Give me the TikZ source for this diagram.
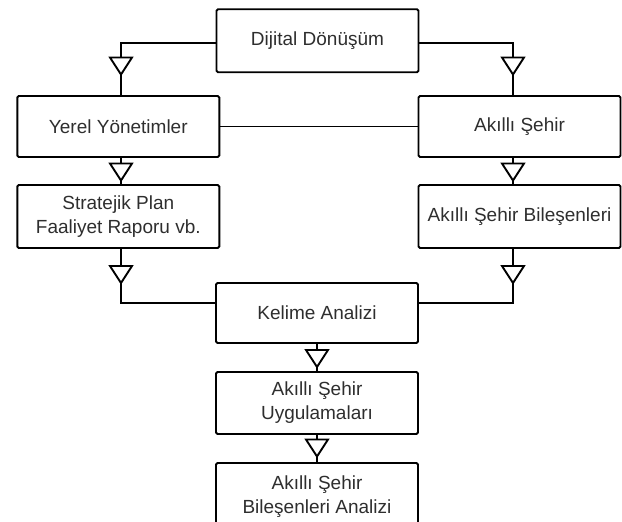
\documentclass[tikz,border=0pt]{standalone}
\usepackage{fontspec}
\setmainfont{Liberation Sans}
\begin{document}
\begin{tikzpicture}[x=1pt,y=-1pt,
  box/.style={draw=black, line width=1.9pt, rounded corners=1.5pt, align=center, inner sep=0pt,
    text=black!82, font=\fontsize{19}{24}\selectfont, minimum width=202pt},
  conn/.style={line width=1.9pt},
  tri/.pic={\draw[line width=1.9pt,fill=white,line join=miter] (-11,-8.5) -- (11,-8.5) -- (0,8.5) -- cycle;}]
\useasboundingbox (0,0) rectangle (622,522);
\coordinate (lc) at (121,0);
\coordinate (rc) at (513,0);
% boxes
\node[box, minimum height=63pt] (dd) at (317.5,40.7) {Dijital Dönüşüm};
\node[box, minimum height=61pt] (yy) at (118.3,126.5) {Yerel Yönetimler};
\node[box, minimum height=61pt] (as) at (519.5,126.5) {Akıllı Şehir};
\node[box, minimum height=63pt] (sp) at (118.3,216.5) {Stratejik Plan\\Faaliyet Raporu vb.};
\node[box, minimum height=63pt] (asb) at (519.5,216.5) {Akıllı Şehir Bileşenleri};
\node[box, minimum height=60pt] (ka) at (317,313) {Kelime Analizi};
\node[box, minimum height=62pt] (ua) at (317,403) {Akıllı Şehir\\Uygulamaları};
\node[box, minimum height=68pt] (sb) at (317,497) {Akıllı Şehir\\Bileşenleri Analizi};
% connectors
\draw[conn] ([yshift=-2.3pt]dd.west) -| (lc |- yy.north);
\draw[conn] ([yshift=-2.3pt]dd.east) -| (rc |- as.north);
\draw[conn] (yy.east) -- (as.west);
\draw[conn] (lc |- yy.south) -- (lc |- sp.north);
\draw[conn] (rc |- as.south) -- (rc |- asb.north);
\draw[conn] (lc |- sp.south) |- ([yshift=10pt]ka.west);
\draw[conn] (rc |- asb.south) |- ([yshift=10pt]ka.east);
\draw[conn] (ka.south) -- (ua.north);
\draw[conn] (ua.south) -- (sb.north);
% arrow triangles
\pic at (121,66) {tri};
\pic at (513,66) {tri};
\pic at (121,172) {tri};
\pic at (513,172) {tri};
\pic at (121,274.5) {tri};
\pic at (513,274.5) {tri};
\pic at (317,358.5) {tri};
\pic at (317,448) {tri};
\end{tikzpicture}
\end{document}
